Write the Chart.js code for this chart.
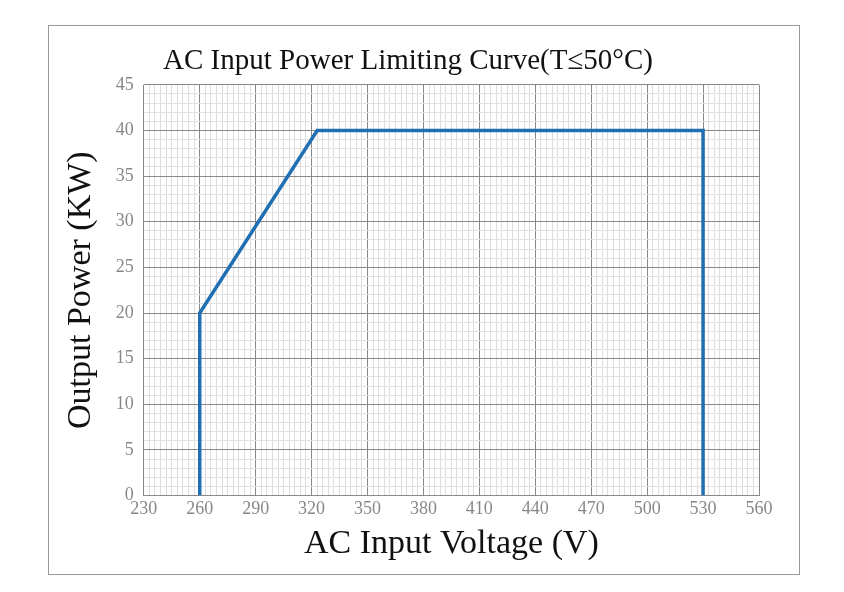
<!DOCTYPE html>
<html><head><meta charset="utf-8">
<script src="https://cdn.jsdelivr.net/npm/chart.js@4"></script>
<style>
body{margin:0;background:#fff;}
#box{position:absolute;left:48px;top:25px;width:752px;height:550px;border:1px solid #999;box-sizing:border-box;}
</style></head><body>
<div id="box"><canvas id="c" width="750" height="548"></canvas></div>
<script>
const voltages=[260,260,323,530,530];
const powers=[0,20,40,40,0];
const xTicks=[230,260,290,320,350,380,410,440,470,500,530,560];
const yTicks=[0,5,10,15,20,25,30,35,40,45];
const serif="'Liberation Serif','DejaVu Serif',serif";
new Chart(document.getElementById('c'),{
type:'scatter',
data:{datasets:[{data:voltages.map((v,i)=>({x:v,y:powers[i]})),showLine:true,borderColor:'#1f6fb2',borderWidth:3.5,pointRadius:0,tension:0}]},
options:{responsive:false,animation:false,devicePixelRatio:1,
layout:{padding:{left:8,right:40,top:10,bottom:6}},
plugins:{legend:{display:false},tooltip:{enabled:false},
title:{display:true,text:'AC Input Power Limiting Curve(T≤50°C)',color:'#111',font:{family:serif,size:29,weight:'normal'},padding:{top:8,bottom:6}}},
scales:{
x:{type:'linear',min:230,max:560,
afterBuildTicks:a=>{const t=[];for(let v=230;v<=560;v+=3)t.push({value:v});a.ticks=t;},
ticks:{autoSkip:false,maxRotation:0,color:'#888',font:{family:serif,size:18},callback:v=>xTicks.includes(v)?String(v):''},
grid:{color:c=>xTicks.includes(c.tick&&c.tick.value)?'#888':'#ddd',lineWidth:1,drawTicks:false},
border:{display:false},
title:{display:true,text:'AC Input Voltage (V)',color:'#111',font:{family:serif,size:34},padding:{top:0}}},
y:{min:0,max:45,
afterBuildTicks:a=>{const t=[];for(let v=0;v<=45;v++)t.push({value:v});a.ticks=t;},
ticks:{autoSkip:false,color:'#888',padding:10,font:{family:serif,size:18},callback:v=>yTicks.includes(v)?String(v):''},
grid:{color:c=>yTicks.includes(c.tick&&c.tick.value)?'#888':'#e2e2e2',lineWidth:1,drawTicks:false},
border:{display:false},
title:{display:true,text:'Output Power (KW)',color:'#111',font:{family:serif,size:34},padding:{bottom:4}}}
}}});
</script>
</body></html>
